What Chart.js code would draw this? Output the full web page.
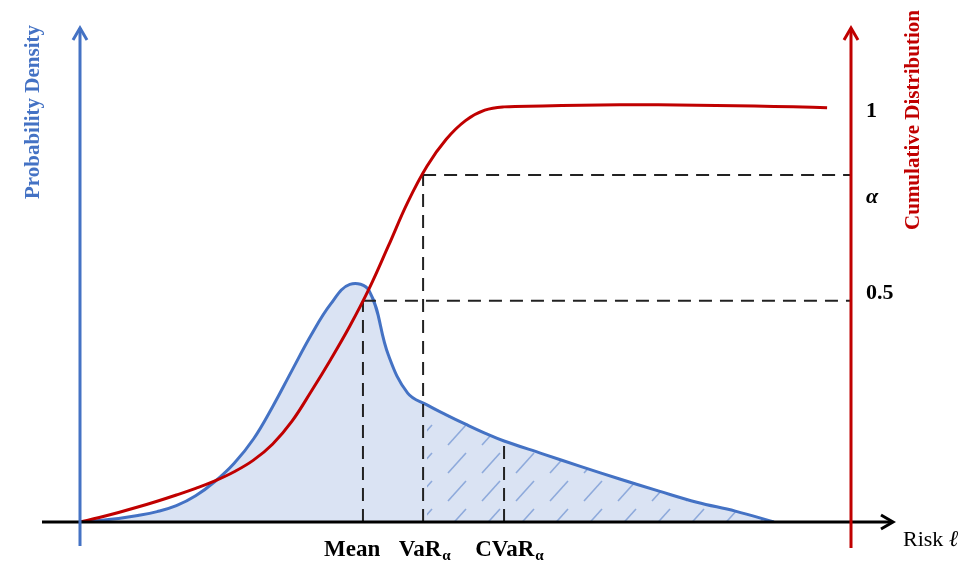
<!DOCTYPE html>
<html lang="en">
<head>
  <meta charset="UTF-8">
  <title>VaR / CVaR</title>
  <script src="https://cdn.jsdelivr.net/npm/chart.js"></script>
  <style>
    body { margin: 0; background: #fff; }
    canvas { display: block; }
  </style>
</head>
<body>
  <canvas id="riskChart" width="978" height="564"></canvas>

  <script>
    // density curve (risk on x, density on y)
    const pdfX = [0, 0.25, 0.5, 0.75, 1, 1.25, 1.5, 1.75, 2, 2.25, 2.5, 2.75, 3, 3.25, 3.5, 3.75, 4, 4.25, 4.5, 4.75, 5, 5.25, 5.5,
                  6, 6.5, 7, 7.5, 8, 8.5, 9];
    const pdfY = [0, 0.003, 0.007, 0.013, 0.021, 0.033, 0.053, 0.082, 0.119, 0.168, 0.234, 0.307, 0.379, 0.441, 0.481, 0.468, 0.338, 0.261, 0.237, 0.217, 0.198, 0.180, 0.164,
                  0.138, 0.112, 0.087, 0.063, 0.040, 0.022, 0];

    // cumulative curve
    const cdfX = [0, 0.25, 0.5, 0.75, 1, 1.25, 1.5, 1.75, 2, 2.25, 2.5, 2.75, 3, 3.25, 3.5, 3.75, 4, 4.25, 4.5, 4.75, 5, 5.25, 5.5,
                  6, 6.5, 7, 7.5, 8, 8.5, 9, 9.5, 9.69];
    const cdfY = [0, 0.011, 0.023, 0.036, 0.050, 0.065, 0.081, 0.099, 0.121, 0.149, 0.188, 0.243, 0.315, 0.391, 0.472, 0.562, 0.665, 0.770, 0.857, 0.922, 0.967, 0.992, 1.000,
                  1.002, 1.004, 1.005, 1.005, 1.004, 1.003, 1.001, 0.999, 0.998];

    // markers
    const meanX = 3.67;
    const varX = 4.45;
    const cvarX = 5.5;
    const cvarDensity = 0.164;
    const levelHalf = 0.533;
    const levelAlpha = 0.836;

    // text labels
    const bottomLabels = ['Mean', 'VaR', 'CVaR'];
    const bottomSubs = ['', 'α', 'α'];
    const bottomLabelX = [3.53, 4.47, 5.57];
    const rightLabels = ['1', 'α', '0.5'];
    const rightLabelLevels = [0.99, 0.783, 0.552];

    const BLUE = '#4472c4';
    const RED = '#c00000';
    const SERIF = '"Liberation Serif", "DejaVu Serif", serif';

    function pts(xs, ys) {
      return xs.map((x, i) => ({ x: x, y: ys[i] }));
    }

    // hatch pattern for the tail beyond VaR
    function makeHatch() {
      const c = document.createElement('canvas');
      c.width = 34;
      c.height = 28;
      const g = c.getContext('2d');
      g.fillStyle = '#dae3f3';
      g.fillRect(0, 0, 34, 28);
      g.strokeStyle = '#8eaadb';
      g.lineWidth = 1.6;
      g.beginPath();
      g.moveTo(6, 25);
      g.lineTo(24, 5);
      g.stroke();
      return g.createPattern(c, 'repeat');
    }

    const tailStart = pdfX.findIndex(x => x >= varX);
    const tailData = pts(pdfX.slice(tailStart), pdfY.slice(tailStart));

    function dashed(data, axis) {
      return {
        data: data,
        yAxisID: axis,
        borderColor: '#222',
        borderWidth: 2,
        borderDash: [13, 8],
        pointRadius: 0,
        fill: false,
        tension: 0,
        order: 1
      };
    }

    function drawArrowUp(ctx, x, y, color) {
      ctx.strokeStyle = color;
      ctx.lineWidth = 3;
      ctx.beginPath();
      ctx.moveTo(x - 7, y + 12);
      ctx.lineTo(x, y);
      ctx.lineTo(x + 7, y + 12);
      ctx.stroke();
    }

    const decor = {
      id: 'decor',
      afterDatasetsDraw(chart) {
        const ctx = chart.ctx;
        const xs = chart.scales.x;
        const ys = chart.scales.y;
        const y2 = chart.scales.y2;
        const area = chart.chartArea;
        const x0 = xs.getPixelForValue(0);
        const x1 = xs.getPixelForValue(10);
        const base = ys.getPixelForValue(0);
        ctx.save();
        ctx.lineCap = 'butt';

        // risk axis
        ctx.strokeStyle = '#000';
        ctx.lineWidth = 3;
        ctx.beginPath();
        ctx.moveTo(x0 - 38, base);
        ctx.lineTo(x1 + 41, base);
        ctx.stroke();
        ctx.beginPath();
        ctx.moveTo(x1 + 30, base - 7);
        ctx.lineTo(x1 + 42, base);
        ctx.lineTo(x1 + 30, base + 7);
        ctx.stroke();

        // density axis
        ctx.strokeStyle = BLUE;
        ctx.beginPath();
        ctx.moveTo(x0, base + 24);
        ctx.lineTo(x0, area.top);
        ctx.stroke();
        drawArrowUp(ctx, x0, area.top, BLUE);

        // cumulative axis
        ctx.strokeStyle = RED;
        ctx.beginPath();
        ctx.moveTo(x1, base + 26);
        ctx.lineTo(x1, area.top);
        ctx.stroke();
        drawArrowUp(ctx, x1, area.top, RED);

        // axis titles
        ctx.textAlign = 'center';
        ctx.textBaseline = 'middle';
        ctx.fillStyle = BLUE;
        ctx.font = 'bold 21px ' + SERIF;
        ctx.save();
        ctx.translate(x0 - 46, 112);
        ctx.rotate(-Math.PI / 2);
        ctx.fillText('Probability Density', 0, 0);
        ctx.restore();
        ctx.fillStyle = RED;
        ctx.font = 'bold 21px ' + SERIF;
        ctx.save();
        ctx.translate(x1 + 63, 120);
        ctx.rotate(-Math.PI / 2);
        ctx.fillText('Cumulative Distribution', 0, 0);
        ctx.restore();

        // right side levels
        ctx.fillStyle = '#000';
        ctx.textAlign = 'left';
        rightLabels.forEach((t, i) => {
          ctx.font = (t === 'α' ? 'italic bold 22px ' : 'bold 22px ') + SERIF;
          ctx.fillText(t, x1 + 15, y2.getPixelForValue(rightLabelLevels[i]));
        });

        // bottom labels
        ctx.textBaseline = 'alphabetic';
        bottomLabels.forEach((t, i) => {
          ctx.font = 'bold 23px ' + SERIF;
          const w1 = ctx.measureText(t).width;
          ctx.font = 'bold 15px ' + SERIF;
          const w2 = bottomSubs[i] ? ctx.measureText(bottomSubs[i]).width + 1 : 0;
          const left = xs.getPixelForValue(bottomLabelX[i]) - (w1 + w2) / 2;
          ctx.font = 'bold 23px ' + SERIF;
          ctx.fillText(t, left, base + 34);
          if (bottomSubs[i]) {
            ctx.font = 'bold 15px ' + SERIF;
            ctx.fillText(bottomSubs[i], left + w1 + 1, base + 38);
          }
        });

        ctx.font = '22px ' + SERIF;
        ctx.fillText('Risk ', x1 + 52, base + 24);
        const rw = ctx.measureText('Risk ').width;
        ctx.font = 'italic 23px ' + SERIF;
        ctx.fillText('ℓ', x1 + 52 + rw, base + 24);
        ctx.restore();
      }
    };

    const ctx = document.getElementById('riskChart').getContext('2d');
    const chart = new Chart(ctx, {
      type: 'line',
      data: {
        datasets: [
          {
            label: 'Cumulative Distribution',
            data: pts(cdfX, cdfY),
            yAxisID: 'y2',
            borderColor: RED,
            borderWidth: 3,
            pointRadius: 0,
            fill: false,
            tension: 0.4,
            order: 0
          },
          dashed([{ x: meanX, y: 0 }, { x: meanX, y: levelHalf }], 'y2'),
          dashed([{ x: meanX, y: levelHalf }, { x: 10, y: levelHalf }], 'y2'),
          dashed([{ x: varX, y: 0 }, { x: varX, y: levelAlpha }], 'y2'),
          dashed([{ x: varX, y: levelAlpha }, { x: 10, y: levelAlpha }], 'y2'),
          dashed([{ x: cvarX, y: 0 }, { x: cvarX, y: cvarDensity }], 'y'),
          {
            label: 'Tail',
            data: tailData,
            yAxisID: 'y',
            borderWidth: 0,
            borderColor: 'rgba(0,0,0,0)',
            backgroundColor: makeHatch(),
            pointRadius: 0,
            fill: 'origin',
            tension: 0.4,
            order: 2
          },
          {
            label: 'Probability Density',
            data: pts(pdfX, pdfY),
            yAxisID: 'y',
            borderColor: BLUE,
            borderWidth: 3,
            backgroundColor: '#dae3f3',
            pointRadius: 0,
            fill: 'origin',
            tension: 0.4,
            order: 3
          }
        ]
      },
      options: {
        responsive: false,
        animation: false,
        devicePixelRatio: 1,
        layout: {
          padding: { left: 80, right: 127, top: 28, bottom: 42 }
        },
        scales: {
          x: { type: 'linear', min: 0, max: 10, display: false },
          y: { min: 0, max: 1, display: false },
          y2: { min: 0, max: 1.19, display: false }
        },
        plugins: {
          legend: { display: false },
          tooltip: { enabled: false },
          filler: { drawTime: 'beforeDatasetsDraw' }
        }
      },
      plugins: [decor]
    });
  </script>
</body>
</html>
